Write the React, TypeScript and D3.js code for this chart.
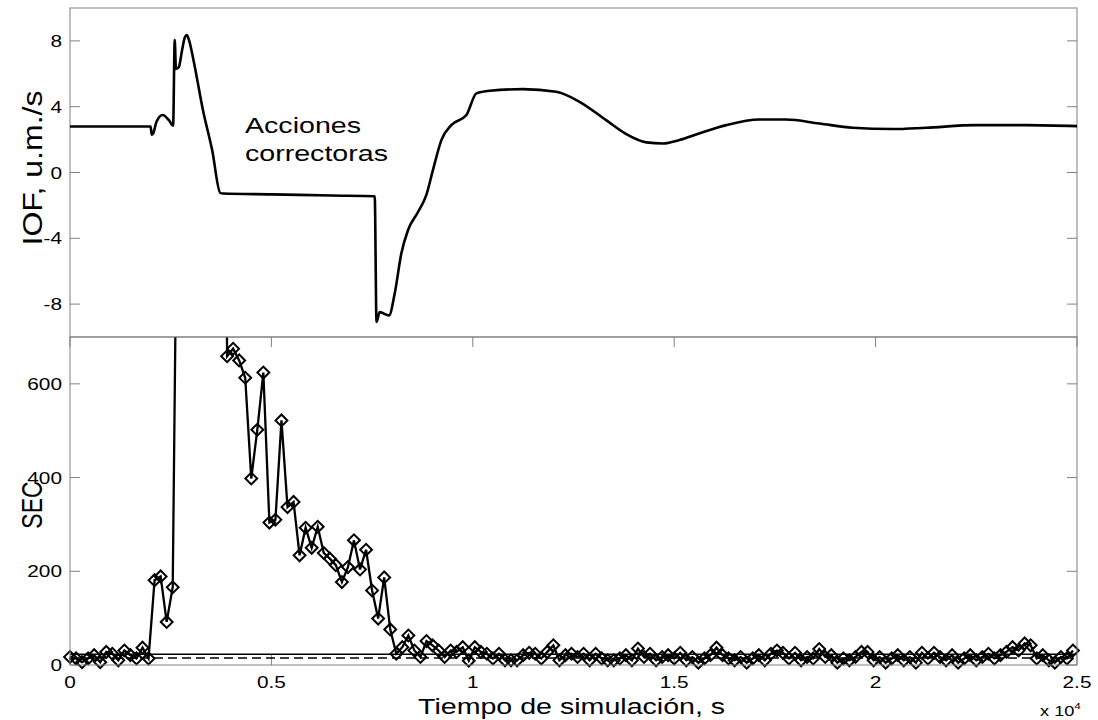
import React from 'react';
import * as d3 from 'd3';

// figure geometry
const W = 1098;
const H = 720;
const left = 70;
const right = 1077;
const top1 = 8;
const bot1 = 337;
const bot2 = 665;
const SX = 1.3; // text in the reference is stretched horizontally

// IOF curve (time in s, value in u.m./s)
const iofTime = [0, 2000, 2030, 2060, 2150, 2300, 2450, 2560, 2600, 2630, 2700, 2780, 2850, 2900, 2960, 3060, 3300, 3530, 3730, 3800, 5000, 6500, 7565, 7610, 7690, 7920, 8060, 8225, 8390, 8640, 8845, 9010, 9220, 9465, 9840, 10090, 10420, 11245, 12070, 12650, 13310, 13810, 14310, 14720, 15130, 15620, 16290, 17110, 17780, 18600, 19430, 20420, 21250, 22490, 23730, 25000];
const iofValue = [2.8, 2.8, 2.3, 2.35, 3.1, 3.5, 3.2, 2.85, 8.05, 6.3, 6.4, 7.4, 8.2, 8.35, 8.0, 6.9, 3.8, 1.35, -1.24, -1.28, -1.33, -1.4, -1.44, -9.09, -8.49, -8.69, -7.37, -4.93, -3.51, -2.4, -1.38, 0.14, 1.97, 2.88, 3.49, 4.81, 4.97, 5.07, 4.91, 4.3, 3.18, 2.33, 1.83, 1.76, 1.97, 2.37, 2.88, 3.22, 3.22, 2.98, 2.72, 2.64, 2.72, 2.88, 2.88, 2.82];

// SEC samples, one every secStep seconds
const secStep = 150;
const secValue = [
  17, 14, 6, 14, 21, 6, 28, 24, 10, 31, 21, 14, 37, 14,
  181, 189, 92, 166,
  1400, 2100, 2600, 2900, 3100, 3000, 2800, 3000,
  659, 675, 650, 613, 398, 502, 624, 304, 310, 522, 337, 348, 234, 293, 250, 295, 239, 227, 213, 177, 209, 266, 204, 246, 159, 99, 187, 76,
  24, 38, 63, 31, 17, 51, 42, 31, 17, 31, 28, 38, 9, 38, 28, 24, 14, 24, 10, 10, 10, 21, 26, 24, 14, 28, 42, 10, 21, 24, 17, 24, 10, 24, 14, 10, 10,
  14, 21, 10, 35, 17, 24, 10, 17, 21, 14, 26, 10, 17, 5, 14, 21, 37, 21, 14, 10, 17, 5, 14, 21, 10, 24, 31, 26, 14, 26, 10, 17, 14, 34, 17, 21, 5, 14, 10,
  17, 28, 28, 10, 17, 5, 14, 21, 10, 17, 5, 26, 14, 26, 17, 10, 21, 5, 14, 21, 10, 17, 24, 14, 21, 28, 38, 31, 46, 42, 14, 21, 10, 5, 17, 14, 31,
];
const limitSolid = 23;
const limitDashed = 15;

const xTicks = [0, 5000, 10000, 15000, 20000, 25000];
const xTickLabels = ['0', '0.5', '1', '1.5', '2', '2.5'];
const iofTicks = [-8, -4, 0, 4, 8];
const secTicks = [0, 200, 400, 600];

const font = "Arial, 'Liberation Sans', Helvetica, sans-serif";
const axisGray = '#808080';

const Txt = ({ x, y, size, anchor = 'start', rot = false, len, children }: any) => (
  <text
    transform={`translate(${x},${y}) scale(${SX},1)${rot ? ' rotate(-90)' : ''}`}
    fontSize={size}
    fontFamily={font}
    textAnchor={anchor}
    fill="#000"
    textLength={len}
    lengthAdjust={len ? 'spacingAndGlyphs' : undefined}
  >
    {children}
  </text>
);

export default function App() {
  const x = d3.scaleLinear().domain([0, 25000]).range([left, right]);
  const yTop = d3.scaleLinear().domain([-10, 10]).range([bot1, top1]);
  const yBot = d3.scaleLinear().domain([0, 700]).range([bot2, bot1]);

  const iofData = iofTime.map((t, i) => [t, iofValue[i]] as [number, number]);
  const iofLine = d3
    .line<[number, number]>()
    .x((d) => x(d[0]))
    .y((d) => yTop(d[1]))
    .curve(d3.curveMonotoneX);

  const secData = secValue.map((v, i) => [i * secStep, v] as [number, number]);
  const secLine = d3
    .line<[number, number]>()
    .x((d) => x(d[0]))
    .y((d) => yBot(d[1]));
  const diamond = d3.symbol().type(d3.symbolSquare).size(70)();

  const tl = 10;

  return (
    <svg width={W} height={H} style={{ position: 'absolute', left: 0, top: 0, background: '#fff' }}>
      <defs>
        <clipPath id="clipTop">
          <rect x={left} y={top1} width={right - left} height={bot1 - top1} />
        </clipPath>
        <clipPath id="clipBot">
          <rect x={left} y={bot1} width={right - left} height={bot2 - bot1} />
        </clipPath>
      </defs>
      <rect width={W} height={H} fill="#fff" />

      {/* top panel: IOF */}
      <g>
        {iofTicks.map((v) => (
          <g key={v}>
            <line x1={left} x2={left + tl} y1={yTop(v)} y2={yTop(v)} stroke={axisGray} />
            <line x1={right} x2={right - tl} y1={yTop(v)} y2={yTop(v)} stroke={axisGray} />
            <Txt x={left - 8} y={yTop(v) + 6} size={16} anchor="end">{v}</Txt>
          </g>
        ))}
        <rect x={left} y={top1} width={right - left} height={bot1 - top1} fill="none" stroke={axisGray} />
        <path d={iofLine(iofData) || ''} fill="none" stroke="#000" strokeWidth={2.6} clipPath="url(#clipTop)" />
        <Txt x={42} y={168} size={21} anchor="middle" rot len={155}>IOF, u.m./s</Txt>
        <Txt x={245} y={133} size={22}>Acciones</Txt>
        <Txt x={245} y={161} size={22}>correctoras</Txt>
      </g>

      {/* bottom panel: SEC */}
      <g>
        {secTicks.map((v) => (
          <g key={v}>
            <line x1={left} x2={left + tl} y1={yBot(v)} y2={yBot(v)} stroke={axisGray} />
            <line x1={right} x2={right - tl} y1={yBot(v)} y2={yBot(v)} stroke={axisGray} />
            <Txt x={left - 8} y={yBot(v) + 6} size={16} anchor="end">{v}</Txt>
          </g>
        ))}
        {xTicks.map((t, i) => (
          <g key={t}>
            <line x1={x(t)} x2={x(t)} y1={bot2} y2={bot2 - tl} stroke={axisGray} />
            <line x1={x(t)} x2={x(t)} y1={bot1} y2={bot1 + tl} stroke={axisGray} />
            <Txt x={x(t)} y={688} size={16} anchor="middle">{xTickLabels[i]}</Txt>
          </g>
        ))}
        <line x1={left} x2={right} y1={yBot(limitSolid)} y2={yBot(limitSolid)} stroke="#000" strokeWidth={1.4} />
        <line x1={left} x2={right} y1={yBot(limitDashed)} y2={yBot(limitDashed)} stroke="#000" strokeWidth={1.4} strokeDasharray="9,5" />
        <path d={secLine(secData) || ''} fill="none" stroke="#000" strokeWidth={2.3} clipPath="url(#clipBot)" />
        {secData
          .filter((d) => d[1] <= 700)
          .map((d, i) => (
            <path
              key={i}
              d={diamond || ''}
              transform={`translate(${x(d[0])},${yBot(d[1])}) rotate(45)`}
              fill="none"
              stroke="#000"
              strokeWidth={2}
            />
          ))}
        <rect x={left} y={bot1} width={right - left} height={bot2 - bot1} fill="none" stroke={axisGray} />
        <Txt x={42} y={505} size={23} anchor="middle" rot>SEC</Txt>
        <Txt x={418} y={714} size={22}>Tiempo de simulación, s</Txt>
        <Txt x={1040} y={716} size={14}>
          x 10<tspan dy={-7} fontSize={9}>4</tspan>
        </Txt>
      </g>
    </svg>
  );
}
